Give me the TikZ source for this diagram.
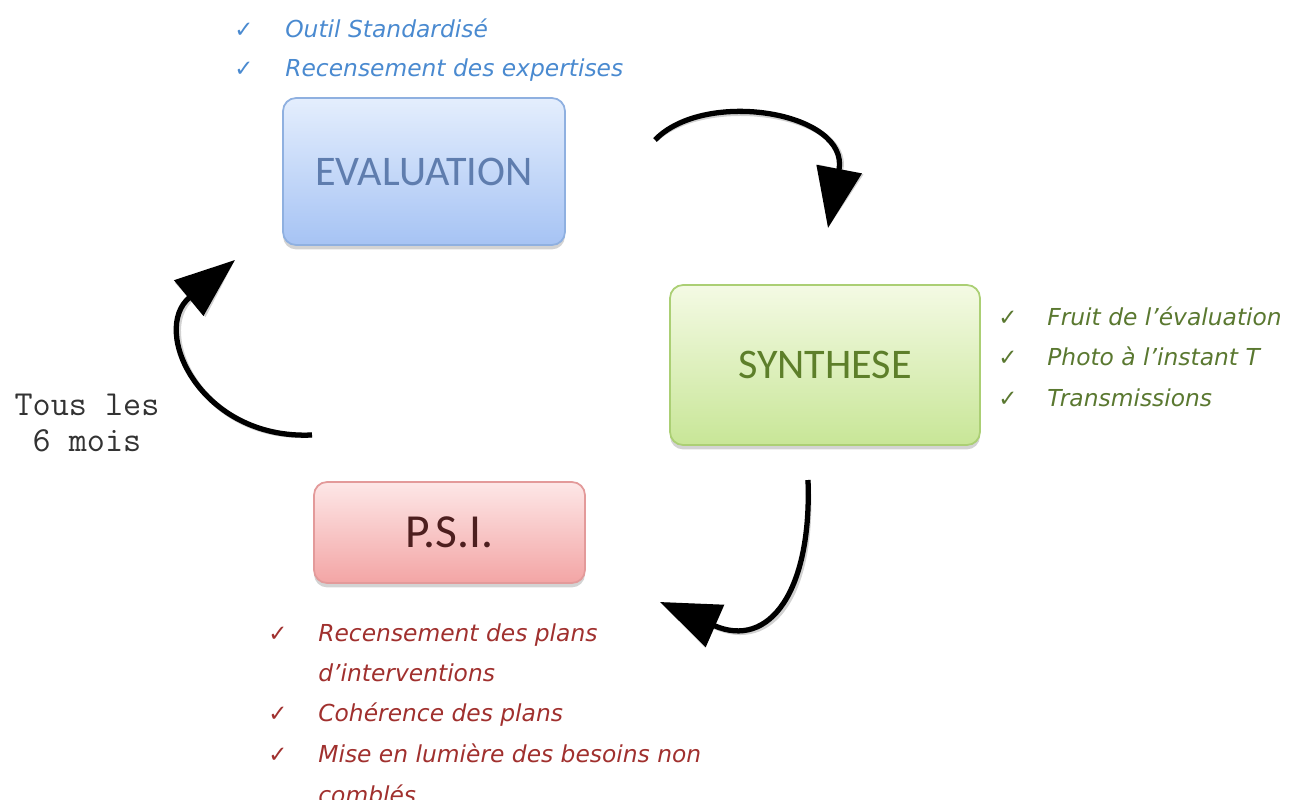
\documentclass[tikz,border=0pt]{standalone}
\usepackage{fontspec}
\setmainfont{Carlito}
\newfontfamily\hand{DejaVu Sans}
\usetikzlibrary{arrows.meta,shadows}
\definecolor{evtext}{HTML}{5F7DAE}
\definecolor{evborder}{HTML}{8FB0E0}
\definecolor{evtop}{HTML}{E4EEFD}
\definecolor{evbot}{HTML}{A6C3F4}
\definecolor{sytext}{HTML}{5D7F2A}
\definecolor{syborder}{HTML}{ABCF74}
\definecolor{sytop}{HTML}{F4FAE4}
\definecolor{sybot}{HTML}{C8E697}
\definecolor{pstext}{HTML}{4D1F1F}
\definecolor{psborder}{HTML}{E39A9A}
\definecolor{pstop}{HTML}{FDE7E7}
\definecolor{psbot}{HTML}{F3A5A5}
\definecolor{bulblue}{HTML}{4A8AD0}
\definecolor{bulgreen}{HTML}{5A7830}
\definecolor{bulred}{HTML}{A0302E}
\begin{document}
\begin{tikzpicture}[x=0.02cm,y=-0.02cm,
  box/.style={rounded corners=0.26cm, line width=1pt, inner sep=0pt,
    drop shadow={opacity=0.35, shadow xshift=0pt, shadow yshift=-2.5pt},
    font=\fontsize{24}{28}\selectfont},
  chk/.style={anchor=base west, inner sep=0pt, font=\hand\fontsize{13}{15}\selectfont},
  bul/.style={anchor=base west, inner sep=0pt, font=\hand\itshape\fontsize{13.3}{16}\selectfont},
  cyc/.style={line width=3pt, -{Triangle[length=1.2cm,width=0.9cm]}},
  cycsh/.style={line width=3pt, draw=black!30, opacity=0.6, xshift=1.6pt, yshift=-1.6pt,
    -{Triangle[length=1.2cm,width=0.9cm, fill=black!30]}},
]
\useasboundingbox (0,0) rectangle (1294,800);

% boxes
\node[box, draw=evborder, top color=evtop, bottom color=evbot, text=evtext,
  minimum width=5.64cm, minimum height=2.94cm] (eval) at (424,171.5) {EVALUATION};
\node[box, draw=syborder, top color=sytop, bottom color=sybot, text=sytext,
  minimum width=6.2cm, minimum height=3.2cm] (synth) at (825,365) {SYNTHESE};
\node[box, draw=psborder, top color=pstop, bottom color=psbot, text=pstext,
  minimum width=5.42cm, minimum height=2.02cm, font=\fontsize{27}{30}\selectfont] (psi) at (449.5,532.5) {P.S.I.};

% evaluation bullets
\node[chk, text=bulblue] (ec1) at (234,38) {✓};
\node[bul, text=bulblue] (eb1) at (285,38) {Outil Standardisé};
\node[chk, text=bulblue] (ec2) at (234,77) {✓};
\node[bul, text=bulblue] (eb2) at (285,77) {Recensement des expertises};

% synthese bullets
\node[chk, text=bulgreen] (sc1) at (998,326) {✓};
\node[bul, text=bulgreen] (sb1) at (1047,326) {Fruit de l’évaluation};
\node[chk, text=bulgreen] (sc2) at (998,365) {✓};
\node[bul, text=bulgreen] (sb2) at (1047,365) {Photo à l’instant T};
\node[chk, text=bulgreen] (sc3) at (998,406) {✓};
\node[bul, text=bulgreen] (sb3) at (1047,406) {Transmissions};

% psi bullets
\node[chk, text=bulred] (pc1) at (268,641) {✓};
\node[bul, text=bulred] (pb1) at (318,641) {Recensement des plans};
\node[bul, text=bulred] (pb1b) at (318,681) {d’interventions};
\node[chk, text=bulred] (pc2) at (268,721) {✓};
\node[bul, text=bulred] (pb2) at (318,721) {Cohérence des plans};
\node[chk, text=bulred] (pc3) at (268,762) {✓};
\node[bul, text=bulred] (pb3) at (318,762) {Mise en lumière des besoins non};
\node[bul, text=bulred] (pb3b) at (318,803) {comblés};

% side label
\node[align=center, text=black!80, inner sep=0pt, font=\ttfamily\fontsize{20}{20}\selectfont] (tous) at (87,423) {Tous les\\6 mois};

% cycle arrows
\coordinate (a1s) at (655,140);
\coordinate (a1e) at (828,228);
\coordinate (a2s) at (808,480);
\coordinate (a2e) at (660,602);
\coordinate (a3s) at (312,435);
\coordinate (a3e) at (235,260);

\draw[cycsh] (a1s) .. controls (705,88) and (850,112) .. (a1e);
\draw[cycsh] (a2s) .. controls (812,590) and (770,650) .. (a2e);
\draw[cycsh] (a3s) .. controls (200,440) and (150,330) .. (a3e);
\draw[cyc] (a1s) .. controls (705,88) and (850,112) .. (a1e);
\draw[cyc] (a2s) .. controls (812,590) and (770,650) .. (a2e);
\draw[cyc] (a3s) .. controls (200,440) and (150,330) .. (a3e);
\end{tikzpicture}
\end{document}
